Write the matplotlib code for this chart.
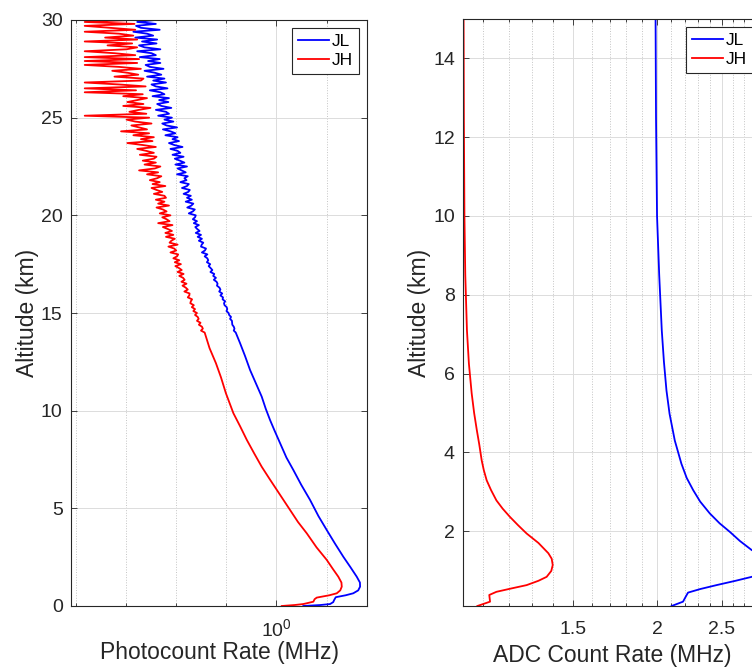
import matplotlib
matplotlib.use('Agg')
import matplotlib.pyplot as plt
import numpy as np
from matplotlib.ticker import FixedLocator, FixedFormatter, NullFormatter

plt.rcParams['font.family'] = ['Liberation Sans', 'DejaVu Sans']
plt.rcParams['mathtext.fontset'] = 'custom'
plt.rcParams['mathtext.rm'] = 'Liberation Sans'
plt.rcParams['mathtext.default'] = 'regular'

# ---- photocount rates (MHz) vs altitude (km) ----
# lower, smooth part
pc_alt_jl_low = [0.0, 0.05, 0.1, 0.2, 0.3, 0.45, 0.55, 0.65, 0.8, 0.99, 1.2, 1.5, 2.0, 2.52, 3.2,
                 3.89, 4.6, 5.43, 6.2, 6.96, 7.6, 8.33, 9.0, 9.52, 10.1, 10.72, 11.4, 12.08, 12.8, 13.45]
pc_jl_low = [1.229, 1.40, 1.508, 1.545, 1.555, 1.575, 1.70, 1.80, 1.87, 1.897, 1.895, 1.849, 1.76, 1.669, 1.565,
             1.47, 1.38, 1.294, 1.21, 1.139, 1.08, 1.029, 0.985, 0.953, 0.922, 0.894, 0.855, 0.818, 0.787, 0.758]
pc_alt_jh_low = [0.0, 0.05, 0.1, 0.22, 0.35, 0.43, 0.55, 0.65, 0.8, 0.99, 1.2, 1.5, 1.9, 2.36, 3.0,
                 3.72, 4.3, 4.92, 5.94, 6.5, 7.13, 7.8, 8.5, 9.2, 9.87, 10.89, 11.7, 12.43, 13.2]
pc_jh_low = [1.042, 1.15, 1.229, 1.327, 1.34, 1.362, 1.50, 1.587, 1.63, 1.649, 1.645, 1.606, 1.54, 1.47, 1.36,
             1.262, 1.18, 1.11, 1.003, 0.95, 0.894, 0.845, 0.798, 0.758, 0.72, 0.68, 0.655, 0.63, 0.60]

# upper, noisy part on the 0.1 km range grid (14-30 km)
pc_alt_high = np.round(np.arange(14.0, 30.05, 0.1), 1)
pc_jl_high = [
    0.733, 0.722, 0.726, 0.722, 0.714, 0.713, 0.712, 0.702, 0.707, 0.697,
    0.694, 0.683, 0.687, 0.684, 0.673, 0.670, 0.676, 0.663, 0.665, 0.652,
    0.661, 0.646, 0.652, 0.647, 0.635, 0.638, 0.633, 0.620, 0.630, 0.617,
    0.622, 0.604, 0.613, 0.605, 0.596, 0.603, 0.588, 0.594, 0.590, 0.578,
    0.590, 0.566, 0.579, 0.584, 0.562, 0.565, 0.572, 0.553, 0.566, 0.548,
    0.562, 0.540, 0.556, 0.546, 0.538, 0.553, 0.532, 0.545, 0.528, 0.537,
    0.540, 0.512, 0.528, 0.536, 0.506, 0.522, 0.530, 0.500, 0.524, 0.505,
    0.520, 0.492, 0.510, 0.516, 0.486, 0.505, 0.512, 0.480, 0.503, 0.495,
    0.508, 0.468, 0.500, 0.485, 0.470, 0.505, 0.462, 0.495, 0.478, 0.460,
    0.492, 0.452, 0.480, 0.470, 0.445, 0.488, 0.458, 0.440, 0.475, 0.452,
    0.470, 0.428, 0.462, 0.445, 0.420, 0.468, 0.432, 0.418, 0.455, 0.425,
    0.450, 0.405, 0.440, 0.430, 0.398, 0.448, 0.415, 0.402, 0.438, 0.408,
    0.440, 0.388, 0.425, 0.412, 0.380, 0.435, 0.398, 0.385, 0.430, 0.390,
    0.425, 0.372, 0.415, 0.395, 0.365, 0.422, 0.380, 0.368, 0.412, 0.375,
    0.410, 0.352, 0.398, 0.385, 0.345, 0.412, 0.365, 0.350, 0.400, 0.358,
    0.402, 0.340, 0.390, 0.372, 0.335, 0.410, 0.355, 0.342, 0.398, 0.345,
    0.395]
pc_jh_high = [
    0.578, 0.562, 0.570, 0.566, 0.553, 0.560, 0.545, 0.552, 0.548, 0.537,
    0.545, 0.530, 0.537, 0.524, 0.532, 0.518, 0.520, 0.525, 0.508, 0.514,
    0.515, 0.495, 0.508, 0.500, 0.488, 0.503, 0.484, 0.496, 0.490, 0.476,
    0.492, 0.470, 0.485, 0.475, 0.462, 0.482, 0.460, 0.476, 0.455, 0.468,
    0.472, 0.445, 0.465, 0.458, 0.438, 0.470, 0.442, 0.448, 0.460, 0.430,
    0.455, 0.428, 0.450, 0.436, 0.420, 0.452, 0.405, 0.442, 0.432, 0.418,
    0.445, 0.410, 0.432, 0.420, 0.400, 0.440, 0.405, 0.425, 0.398, 0.430,
    0.425, 0.392, 0.418, 0.400, 0.385, 0.428, 0.388, 0.410, 0.380, 0.402,
    0.415, 0.372, 0.405, 0.350, 0.395, 0.412, 0.365, 0.398, 0.360, 0.392,
    0.400, 0.352, 0.392, 0.370, 0.345, 0.398, 0.360, 0.320, 0.388, 0.355,
    0.392, 0.335, 0.378, 0.305, 0.372, 0.350, 0.330, 0.385, 0.340, 0.318,
    0.378, 0.231, 0.370, 0.325, 0.350, 0.382, 0.310, 0.362, 0.320, 0.345,
    0.372, 0.310, 0.360, 0.231, 0.342, 0.231, 0.368, 0.300, 0.231, 0.355,
    0.362, 0.290, 0.348, 0.320, 0.285, 0.355, 0.300, 0.231, 0.345, 0.231,
    0.350, 0.231, 0.340, 0.290, 0.231, 0.318, 0.345, 0.275, 0.332, 0.231,
    0.345, 0.270, 0.335, 0.300, 0.231, 0.340, 0.280, 0.231, 0.338, 0.231,
    0.330]

# ---- ADC count rates (MHz) vs altitude (km) ----
adc_alt_jl = [0.1, 0.21, 0.34, 0.44, 0.53, 0.63, 0.74, 0.84, 1.0, 1.15, 1.3, 1.52, 1.75, 1.98, 2.2,
              2.45, 2.75, 3.04, 3.35, 3.71, 4.3, 4.98, 5.57, 6.3, 7.09, 8.5, 10.0, 12.5, 15.0]
adc_jl = [2.103, 2.187, 2.208, 2.225, 2.32, 2.454, 2.62, 2.77, 2.95, 3.0, 2.95, 2.77, 2.66, 2.57, 2.48,
          2.398, 2.32, 2.265, 2.215, 2.175, 2.126, 2.088, 2.066, 2.048, 2.033, 2.015, 2.0, 1.993, 1.990]
adc_alt_jh = [0.1, 0.21, 0.38, 0.46, 0.55, 0.63, 0.74, 0.84, 0.99, 1.14, 1.3, 1.44, 1.7, 1.94, 2.15,
              2.36, 2.57, 2.78, 3.04, 3.29, 3.55, 3.80, 4.2, 4.56, 5.0, 5.5, 6.25, 7.09, 8.5, 10.0,
              12.5, 15.0]
adc_jh = [1.078, 1.126, 1.123, 1.151, 1.215, 1.277, 1.33, 1.368, 1.39, 1.397, 1.392, 1.376, 1.33, 1.277,
          1.24, 1.206, 1.176, 1.151, 1.13, 1.113, 1.102, 1.094, 1.085, 1.076, 1.066, 1.057, 1.047, 1.040,
          1.034, 1.031, 1.029, 1.028]

pc_alt_jl = list(pc_alt_jl_low) + list(pc_alt_high)
pc_jl = pc_jl_low + pc_jl_high
pc_alt_jh = list(pc_alt_jh_low) + list(pc_alt_high)
pc_jh = pc_jh_low + pc_jh_high

txt = '#262626'
W, H = 752, 669
fig = plt.figure(figsize=(W / 100, H / 100), dpi=100)
ax1 = fig.add_axes([71 / W, (H - 606) / H, 296 / W, 586 / H])
ax2 = fig.add_axes([463.3 / W, (H - 606) / H, 297.7 / W, 587 / H])


def style(ax, xpad):
    for s in ax.spines.values():
        s.set_color(txt)
        s.set_linewidth(0.8)
    ax.tick_params(which='both', direction='in', top=True, right=True,
                   colors=txt, labelsize=14, width=0.6)
    ax.tick_params(which='major', length=4)
    ax.tick_params(which='minor', length=2)
    ax.tick_params(axis='x', which='both', pad=xpad)
    ax.tick_params(axis='y', which='both', pad=6)
    ax.grid(which='major', color='#dcdcdc', linewidth=0.7)
    ax.xaxis.grid(which='minor', color='#c4c4c4', linestyle=':', linewidth=0.7)
    ax.set_axisbelow(True)
    leg = ax.legend(loc='upper right', fontsize=12.5, fancybox=False, edgecolor=txt,
                    framealpha=1, borderaxespad=0.45, handlelength=1.75,
                    handletextpad=0.2, borderpad=0.35, labelspacing=0.2)
    leg.get_frame().set_linewidth(0.8)


# left panel: photocounting channels
ax1.plot(pc_jl, pc_alt_jl, color='blue', lw=1.3, label='JL')
ax1.plot(pc_jh, pc_alt_jh, color='red', lw=1.3, label='JH')
ax1.set_xscale('log')
ax1.set_xlim(0.208, 2.0)
ax1.set_ylim(0, 30)
ax1.xaxis.set_major_locator(FixedLocator([1.0]))
ax1.xaxis.set_major_formatter(FixedFormatter([r'$10^{0}$']))
ax1.xaxis.set_minor_locator(FixedLocator([10 ** (k / 6) for k in (-4, -3, -2, -1, 1)]))
ax1.xaxis.set_minor_formatter(NullFormatter())
ax1.set_yticks([0, 5, 10, 15, 20, 25, 30])
ax1.set_xlabel('Photocount Rate (MHz)', fontsize=16.5, color=txt, va='top')
ax1.set_ylabel('Altitude (km)', fontsize=16.5, color=txt)
ax1.xaxis.set_label_coords(0.5, -0.059)
ax1.yaxis.set_label_coords(-0.108, 0.5)
style(ax1, 8.5)

# right panel: analog channels
ax2.plot(adc_jl, adc_alt_jl, color='blue', lw=1.3, label='JL')
ax2.plot(adc_jh, adc_alt_jh, color='red', lw=1.3, label='JH')
ax2.set_xscale('log')
ax2.set_xlim(1.027, 2.86)
ax2.set_ylim(0.1, 15)
ax2.xaxis.set_major_locator(FixedLocator([1.5, 2.0, 2.5]))
ax2.xaxis.set_major_formatter(FixedFormatter(['1.5', '2', '2.5']))
ax2.xaxis.set_minor_locator(FixedLocator([1.1, 1.2, 1.3, 1.4, 1.6, 1.7, 1.8, 1.9,
                                          2.1, 2.2, 2.3, 2.4, 2.6, 2.7, 2.8]))
ax2.xaxis.set_minor_formatter(NullFormatter())
ax2.set_yticks([2, 4, 6, 8, 10, 12, 14])
ax2.set_xlabel('ADC Count Rate (MHz)', fontsize=16.5, color=txt, va='top')
ax2.set_ylabel('Altitude (km)', fontsize=16.5, color=txt)
ax2.xaxis.set_label_coords(0.5, -0.064)
ax2.yaxis.set_label_coords(-0.109, 0.5)
style(ax2, 11)

fig.savefig('out.png', dpi=100)
